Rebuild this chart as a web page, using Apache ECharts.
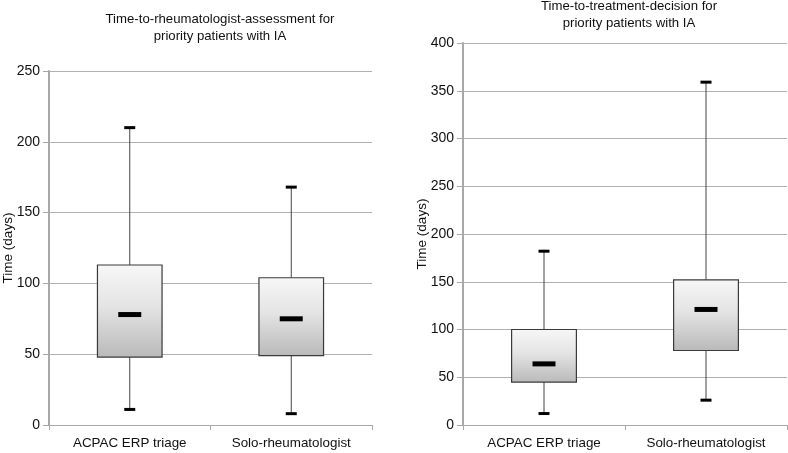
<!DOCTYPE html>
<html><head><meta charset="utf-8">
<script src="https://cdn.jsdelivr.net/npm/echarts@6/dist/echarts.min.js"></script>
<style>html,body{margin:0;padding:0;background:#fff}#c{width:788px;height:453px}</style>
</head><body><div id="c"></div>
<script>
const categories = ['ACPAC ERP triage', 'Solo-rheumatologist'];
// [low, q1, median, q3, high]
const assessmentStats = [[11, 48, 78, 113, 210], [8, 49, 75, 104, 168]];
const treatmentStats = [[12, 45, 64, 100, 182], [26, 78, 121, 152, 359]];
const leftTitle = 'Time-to-rheumatologist-assessment for\npriority patients with IA';
const rightTitle = 'Time-to-treatment-decision for\npriority patients with IA';
const yName = 'Time (days)';

const FONT = 'Liberation Sans, Arial, sans-serif';
function renderBox(params, api) {
  const ci = api.value(0);
  const low = api.coord([ci, api.value(1)]);
  const q1 = api.coord([ci, api.value(2)]);
  const med = api.coord([ci, api.value(3)]);
  const q3 = api.coord([ci, api.value(4)]);
  const high = api.coord([ci, api.value(5)]);
  const x = low[0];
  const bw = api.size([1, 0])[0] * 0.4;
  const lineStyle = {stroke: '#444', lineWidth: 1};
  return {type: 'group', children: [
    {type: 'line', shape: {x1: x, y1: high[1], x2: x, y2: q3[1]}, style: lineStyle},
    {type: 'line', shape: {x1: x, y1: q1[1], x2: x, y2: low[1]}, style: lineStyle},
    {type: 'rect', shape: {x: x - 5.5, y: high[1] - 1.5, width: 11, height: 3}, style: {fill: '#000'}},
    {type: 'rect', shape: {x: x - 5.5, y: low[1] - 1.5, width: 11, height: 3}, style: {fill: '#000'}},
    {type: 'rect', shape: {x: x - bw / 2, y: q3[1], width: bw, height: q1[1] - q3[1]},
      style: {fill: new echarts.graphic.LinearGradient(0, 0, 0, 1, [
        {offset: 0, color: '#f7f7f7'}, {offset: 0.45, color: '#e4e4e4'}, {offset: 1, color: '#b9b9b9'}]),
        stroke: '#3a3a3a', lineWidth: 1.2}},
    {type: 'rect', shape: {x: x - 11.5, y: med[1] - 2.5, width: 23, height: 5}, style: {fill: '#000'}}
  ]};
}
function toData(stats) { return stats.map((s, i) => [i].concat(s)); }
function xAxis(gi) {
  return {type: 'category', gridIndex: gi, data: categories, boundaryGap: true,
    axisLine: {lineStyle: {color: '#a8a8a8', width: 1}},
    axisTick: {show: true, interval: 0, length: 5, lineStyle: {color: '#a8a8a8'}},
    axisLabel: {color: '#111', fontSize: 13.4, fontFamily: FONT, margin: 12}};
}
function yAxis(gi, max) {
  return {type: 'value', gridIndex: gi, min: 0, max: max, interval: 50,
    name: yName, nameLocation: 'middle', nameGap: 34, nameRotate: 90, nameMoveOverlap: false,
    nameTextStyle: {color: '#111', fontSize: 13.5, fontFamily: FONT},
    axisLine: {show: true, lineStyle: {color: '#a8a8a8', width: 2}},
    axisTick: {show: true, length: 6, lineStyle: {color: '#a8a8a8'}},
    axisLabel: {color: '#111', fontSize: 14, fontFamily: FONT, margin: 9},
    splitLine: {lineStyle: {color: '#b0b0b0', width: 1}}};
}
const chart = echarts.init(document.getElementById('c'), null, {renderer: 'canvas'});
chart.setOption({
  animation: false,
  backgroundColor: '#fff',
  title: [
    {text: leftTitle, left: 215, top: 6, textAlign: 'center',
      textStyle: {fontSize: 13.2, fontWeight: 'normal', color: '#111', fontFamily: FONT, lineHeight: 17}},
    {text: rightTitle, left: 624, top: -7, textAlign: 'center',
      textStyle: {fontSize: 13.2, fontWeight: 'normal', color: '#111', fontFamily: FONT, lineHeight: 17}}
  ],
  grid: [
    {left: 49, right: 416, top: 71, bottom: 28, containLabel: false, outerBoundsMode: 'none'},
    {left: 463, right: 1, top: 43, bottom: 28, containLabel: false, outerBoundsMode: 'none'}
  ],
  xAxis: [xAxis(0), xAxis(1)],
  yAxis: [yAxis(0, 250), yAxis(1, 400)],
  series: [
    {type: 'custom', xAxisIndex: 0, yAxisIndex: 0, renderItem: renderBox,
      encode: {x: 0, y: [1, 2, 3, 4, 5]}, data: toData(assessmentStats)},
    {type: 'custom', xAxisIndex: 1, yAxisIndex: 1, renderItem: renderBox,
      encode: {x: 0, y: [1, 2, 3, 4, 5]}, data: toData(treatmentStats)}
  ]
});
</script></body></html>
